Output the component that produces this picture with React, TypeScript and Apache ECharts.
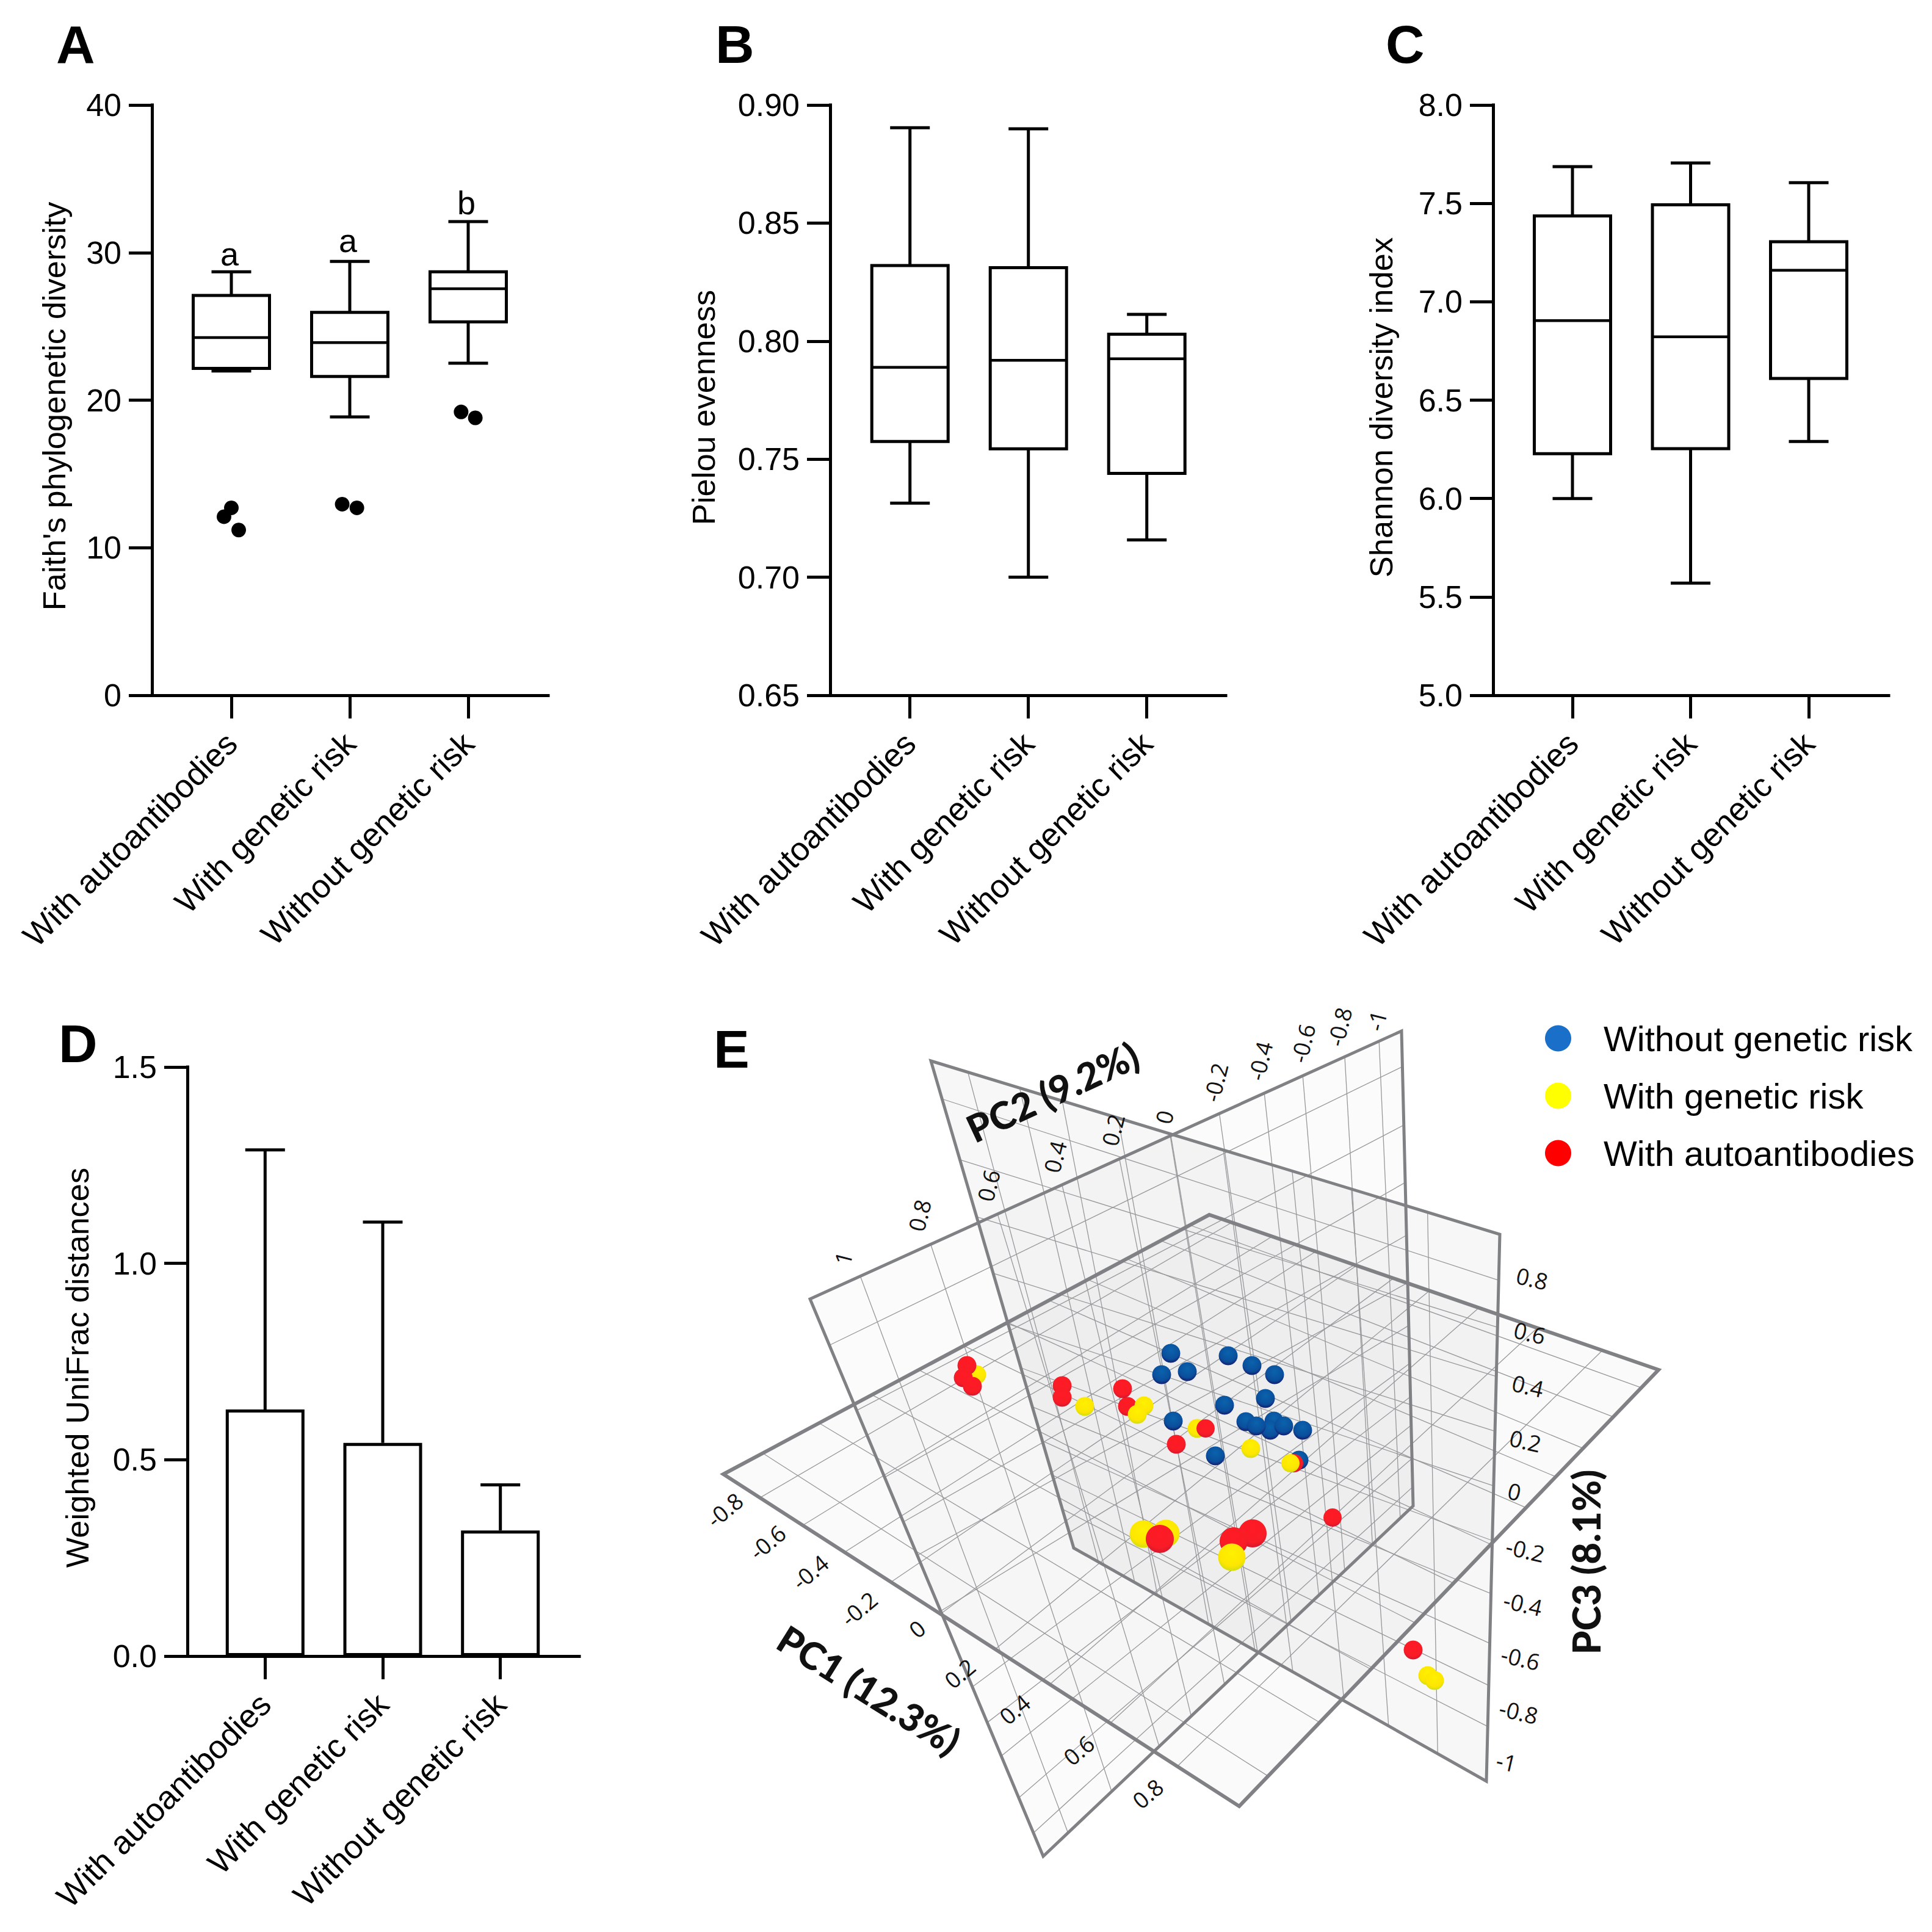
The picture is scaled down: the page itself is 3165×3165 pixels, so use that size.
import React, { useEffect, useRef } from "react";
import * as echarts from "echarts";

const FONT = "Liberation Sans";
const categories = ["With autoantibodies", "With genetic risk", "Without genetic risk"];

// [high, q3, median, q1, low]
const faithBoxes = [
  [28.7, 27.09, 24.24, 22.15, 21.98],
  [29.4, 25.95, 23.9, 21.6, 18.86],
  [32.1, 28.7, 27.55, 25.3, 22.5],
];
const faithOutliers = [
  [0.938, 12.1], [1, 12.7], [1.062, 11.2],
  [1.936, 12.95], [2.06, 12.7],
  [2.94, 19.2], [3.06, 18.8],
];
const faithLetters = ["a", "a", "b"];
const faithLetterPlaces = [[0.985, 29.9], [1.985, 30.8], [2.985, 33.4]];
const pielouBoxes = [
  [0.8904, 0.832, 0.7889, 0.7575, 0.7314],
  [0.8899, 0.8311, 0.7919, 0.7544, 0.7],
  [0.8113, 0.8029, 0.7925, 0.744, 0.7158],
];
const shannonBoxes = [
  [7.687, 7.436, 6.904, 6.228, 6.0],
  [7.705, 7.493, 6.822, 6.253, 5.57],
  [7.605, 7.305, 7.16, 6.61, 6.29],
];
const unifracMeans = [0.628, 0.543, 0.32];
const unifracUpper = [1.289, 1.105, 0.436];

// Panel E: positions of the samples as projected on the page [x, y, diameter]
const scatterBlue = [
  [1918, 2217, 31], [1903, 2252, 31], [1945, 2247, 31], [2012, 2221, 31], [2051, 2237, 31], [2088, 2252, 31],
  [2073, 2291, 31], [2006, 2302, 31], [1922, 2328, 31], [2041, 2329, 31], [2087, 2328, 31], [2081, 2343, 31],
  [2058, 2336, 31], [2103, 2336, 31], [2134, 2343, 31], [1991, 2385, 31], [2128, 2392, 31],
];
const scatterRedBack = [
  [1847, 2304, 31], [2052, 2512, 46], [2021, 2525, 46], [2120, 2397, 30],
];
const scatterYellow = [
  [1600, 2252, 31], [1777, 2304, 31], [1874, 2303, 31], [1863, 2317, 31], [1961, 2340, 31], [2049, 2373, 31],
  [2114, 2397, 30], [1873, 2513, 45], [1910, 2512, 45], [2018, 2551, 45], [2339, 2745, 31], [2350, 2753, 31],
];
const scatterRedFront = [
  [1584, 2237, 31], [1578, 2257, 31], [1593, 2271, 31], [1740, 2270, 31], [1740, 2289, 31], [1839, 2275, 31],
  [1975, 2340, 30], [1927, 2366, 31], [2183, 2486, 30], [1900, 2521, 46], [2315, 2703, 31],
];

// Panel E: the three planes and where their grid lines meet the edges
const floorCorners = [[1185, 2415], [1981, 1990], [2717, 2244], [2030, 2959]];
const backCorners = [[1525, 1738], [2457, 2022], [2435, 2918], [1759, 2536]];
const sideCorners = [[1327, 2128], [2296, 1689], [2315, 2467], [1709, 3041]];

const floorLinesA = [
  [0.071, 0.05], [0.154, 0.14], [0.235, 0.237], [0.325, 0.328], [0.421, 0.41], [0.527, 0.49], [0.633, 0.6], [0.75, 0.73], [0.88, 0.875],
];
const floorLinesB = [
  [0.081, 0.069], [0.197, 0.192], [0.306, 0.314], [0.402, 0.42], [0.495, 0.511], [0.585, 0.6], [0.67, 0.684], [0.75, 0.755], [0.83, 0.82], [0.9, 0.892], [0.96, 0.959],
];
const backLinesA = [
  [0.065, 0.06], [0.156, 0.148], [0.231, 0.203], [0.329, 0.327], [0.42, 0.439], [0.514, 0.531], [0.635, 0.655], [0.739, 0.763], [0.873, 0.882],
];
const backLinesB = [
  [0.078, 0.084], [0.203, 0.17], [0.32, 0.26], [0.436, 0.36], [0.54, 0.46], [0.63, 0.56], [0.71, 0.657], [0.78, 0.748], [0.85, 0.825], [0.92, 0.9],
];
const sideLinesA = [
  [0.085, 0.067], [0.204, 0.185], [0.317, 0.3135], [0.426, 0.4], [0.523, 0.49], [0.61, 0.58], [0.692, 0.67], [0.768, 0.745], [0.833, 0.815], [0.904, 0.89], [0.962, 0.965],
];
const sideLinesB = [
  [0.083, 0.075], [0.2, 0.198], [0.32, 0.319], [0.4, 0.43], [0.46, 0.53], [0.56, 0.62], [0.696, 0.7], [0.76, 0.77], [0.82, 0.83], [0.895, 0.9], [0.958, 0.96],
];

const pc1Ticks = ["-0.8", "-0.6", "-0.4", "-0.2", "0", "0.2", "0.4", "0.6", "0.8"];
const pc1TickPlaces = [[1187, 2473], [1257, 2526], [1327, 2575], [1407, 2635], [1502, 2668], [1572, 2741], [1662, 2800], [1767, 2867], [1880, 2938]];
const pc2Ticks = ["1", "0.8", "0.6", "0.4", "0.2", "0", "-0.2", "-0.4", "-0.6", "-0.8", "-1"];
const pc2TickPlaces = [[1381, 2061], [1506, 1991], [1619, 1942], [1728, 1895], [1823, 1851], [1907, 1830], [1991, 1773], [2064, 1738], [2134, 1709], [2194, 1682], [2255, 1672]];
const pc3Ticks = ["0.8", "0.6", "0.4", "0.2", "0", "-0.2", "-0.4", "-0.6", "-0.8", "-1"];
const pc3TickPlaces = [[2510, 2094], [2506, 2183], [2503, 2270], [2499, 2360], [2481, 2443], [2499, 2539], [2495, 2627], [2491, 2716], [2488, 2804], [2468, 2886]];

const lerp = (a: number[], b: number[], t: number) => [a[0] + (b[0] - a[0]) * t, a[1] + (b[1] - a[1]) * t];

function segmentsBetween(e1a: number[], e1b: number[], e2a: number[], e2b: number[], pairs: number[][]) {
  return pairs.map(([s, t]) => [...lerp(e1a, e1b, s), ...lerp(e2a, e2b, t)]);
}

const gridSegments = [
  ...segmentsBetween(floorCorners[0], floorCorners[3], floorCorners[1], floorCorners[2], floorLinesA),
  ...segmentsBetween(floorCorners[0], floorCorners[1], floorCorners[3], floorCorners[2], floorLinesB),
  ...segmentsBetween(backCorners[0], backCorners[1], backCorners[3], backCorners[2], backLinesA),
  ...segmentsBetween(backCorners[0], backCorners[3], backCorners[1], backCorners[2], backLinesB),
  ...segmentsBetween(sideCorners[0], sideCorners[1], sideCorners[3], sideCorners[2], sideLinesA),
  ...segmentsBetween(sideCorners[0], sideCorners[3], sideCorners[1], sideCorners[2], sideLinesB),
];

const ball = (c: string, mid: string, edge: string) =>
  new echarts.graphic.RadialGradient(0.5, 0.34, 0.68, [
    { offset: 0, color: c },
    { offset: 0.7, color: mid },
    { offset: 1, color: edge },
  ]);

const panels = [
  { left: 249, right: 898, top: 172, bottom: 1139, first: 379, step: 194, min: 0, max: 40, interval: 10, dec: 0, title: "Faith's phylogenetic diversity", nameGap: 134, shift: 20 },
  { left: 1360, right: 2008, top: 172, bottom: 1139, first: 1490.7, step: 194, min: 0.65, max: 0.9, interval: 0.05, dec: 2, title: "Pielou evenness", nameGap: 181, shift: 24 },
  { left: 2446, right: 3094, top: 172, bottom: 1139, first: 2576, step: 193.5, min: 5, max: 8, interval: 0.5, dec: 1, title: "Shannon diversity index", nameGap: 157, shift: 24 },
  { left: 307, right: 949, top: 1748, bottom: 2713, first: 434.3, step: 192.7, min: 0, max: 1.5, interval: 0.5, dec: 1, title: "Weighted UniFrac distances", nameGap: 154, shift: 20 },
];

function boxSeries(index: number, boxes: number[][], boxPx: number, capPx: number) {
  return {
    type: "custom",
    xAxisIndex: index,
    yAxisIndex: index,
    data: boxes.map((b, i) => [i + 1, ...b]),
    encode: { x: 0, y: [1, 2, 3, 4, 5] },
    z: 3,
    renderItem: (_: any, api: any) => {
      const x = api.value(0);
      const [cx, yHigh] = api.coord([x, api.value(1)]);
      const yQ3 = api.coord([x, api.value(2)])[1];
      const yMed = api.coord([x, api.value(3)])[1];
      const yQ1 = api.coord([x, api.value(4)])[1];
      const yLow = api.coord([x, api.value(5)])[1];
      const line = (x1: number, y1: number, x2: number, y2: number, w = 5) => ({
        type: "line",
        shape: { x1, y1, x2, y2 },
        style: { stroke: "#000", lineWidth: w, fill: "none" },
      });
      return {
        type: "group",
        children: [
          line(cx, yHigh, cx, yQ3),
          line(cx, yQ1, cx, yLow),
          line(cx - capPx / 2, yHigh, cx + capPx / 2, yHigh),
          line(cx - capPx / 2, yLow, cx + capPx / 2, yLow),
          {
            type: "rect",
            shape: { x: cx - boxPx / 2, y: yQ3, width: boxPx, height: yQ1 - yQ3 },
            style: { stroke: "#000", lineWidth: 5, fill: "none" },
          },
          line(cx - boxPx / 2, yMed, cx + boxPx / 2, yMed, 4.5),
        ],
      };
    },
  };
}

function buildOption() {
  const grids: any[] = [];
  const xAxes: any[] = [];
  const yAxes: any[] = [];
  panels.forEach((p, i) => {
    grids.push({ left: p.left, top: p.top, width: p.right - p.left, height: p.bottom - p.top, containLabel: false });
    xAxes.push({
      type: "value",
      gridIndex: i,
      min: 1 - (p.first - p.left) / p.step,
      max: 1 + (p.right - p.first) / p.step,
      splitLine: { show: false },
      axisLine: { show: true, onZero: false, lineStyle: { color: "#000", width: 5, cap: "square" } },
      axisTick: { show: true, customValues: [1, 2, 3], length: 38, lineStyle: { color: "#000", width: 5 } },
      axisLabel: {
        customValues: [1, 2, 3],
        formatter: (v: number) => categories[Math.round(v) - 1],
        rotate: 45,
        margin: 70,
        fontFamily: FONT,
        fontSize: 53.5,
        color: "#000",
      },
    });
    yAxes.push({
      type: "value",
      gridIndex: i,
      min: p.min,
      max: p.max,
      interval: p.interval,
      name: p.title,
      nameLocation: "middle",
      nameGap: p.nameGap,
      nameTextStyle: { fontFamily: FONT, fontSize: 52.5, color: "#000", padding: [0, p.shift, 0, 0] },
      splitLine: { show: false },
      axisLine: { show: true, onZero: false, lineStyle: { color: "#000", width: 5, cap: "square" } },
      axisTick: { show: true, length: 38, lineStyle: { color: "#000", width: 5 } },
      axisLabel: {
        margin: 50,
        fontFamily: FONT,
        fontSize: 52,
        color: "#000",
        formatter: (v: number) => v.toFixed(p.dec),
      },
    });
  });

  // hidden page-wide frame for the projected 3D panel
  grids.push({ left: 0, top: 0, width: 3165, height: 3165 });
  xAxes.push({ type: "value", gridIndex: 4, min: 0, max: 3165, show: false });
  yAxes.push({ type: "value", gridIndex: 4, min: 0, max: 3165, inverse: true, show: false });

  const planeSeries = (corners: number[][], alpha: number) => ({
    type: "custom",
    xAxisIndex: 4,
    yAxisIndex: 4,
    silent: true,
    z: 1,
    data: [[corners[0][0], corners[0][1]]],
    renderItem: (_: any, api: any) => ({
      type: "polygon",
      shape: { points: corners.map((c) => api.coord(c)) },
      style: { fill: `rgba(70,70,85,${alpha})`, stroke: "none" },
    }),
  });
  const edgeSeries = (corners: number[][], width: number) => ({
    type: "custom",
    xAxisIndex: 4,
    yAxisIndex: 4,
    silent: true,
    z: 4,
    data: [[corners[0][0], corners[0][1]]],
    renderItem: (_: any, api: any) => ({
      type: "polygon",
      shape: { points: corners.map((c) => api.coord(c)) },
      style: { fill: "none", stroke: "#808184", lineWidth: width, lineJoin: "miter" },
    }),
  });
  const labelSeries = (
    texts: string[],
    places: number[][],
    rotate: number,
    fontSize: number,
    family: string,
    weight: string = "normal",
    color: string = "#111",
    gridIdx: number = 4
  ) => ({
    type: "custom",
    xAxisIndex: gridIdx,
    yAxisIndex: gridIdx,
    silent: true,
    z: 6,
    data: places.map((p) => [p[0], p[1]]),
    renderItem: (params: any, api: any) => {
      const [x, y] = api.coord([api.value(0), api.value(1)]);
      return {
        type: "text",
        x,
        y,
        rotation: (rotate * Math.PI) / 180,
        style: {
          text: texts[params.dataIndex],
          align: "center",
          verticalAlign: "middle",
          fontSize,
          fontFamily: family,
          fontWeight: weight,
          fill: color,
        },
      };
    },
  });
  const points = (name: string, data: number[][], color: any, z: number) => ({
    type: "scatter",
    name,
    xAxisIndex: 4,
    yAxisIndex: 4,
    data,
    z,
    symbol: "circle",
    symbolSize: (v: number[]) => v[2],
    itemStyle: { color, opacity: 1 },
    silent: true,
  });

  const blue = ball("#0a63ad", "#0a4e9b", "#14186a");
  const yellow = ball("#fff000", "#fde600", "#cfdc14");
  const red = ball("#ff1a24", "#f81c26", "#d4162e");

  const series: any[] = [
    boxSeries(0, faithBoxes, 125, 65),
    boxSeries(1, pielouBoxes, 125, 65),
    boxSeries(2, shannonBoxes, 125, 65),
    {
      type: "scatter",
      xAxisIndex: 0,
      yAxisIndex: 0,
      data: faithOutliers,
      symbol: "circle",
      symbolSize: 24,
      itemStyle: { color: "#000", opacity: 1 },
      z: 3,
    },
    labelSeries(faithLetters, faithLetterPlaces, 0, 54, FONT, "normal", "#000", 0),
    {
      type: "bar",
      xAxisIndex: 3,
      yAxisIndex: 3,
      data: unifracMeans.map((v, i) => [i + 1, v]),
      barWidth: 129,
      clip: false,
      itemStyle: { color: "#fff", borderColor: "#000", borderWidth: 5 },
      z: 3,
    },
    {
      type: "custom",
      xAxisIndex: 3,
      yAxisIndex: 3,
      z: 2,
      data: unifracMeans.map((v, i) => [i + 1, v, unifracUpper[i]]),
      encode: { x: 0, y: [1, 2] },
      renderItem: (_: any, api: any) => {
        const [cx, y1] = api.coord([api.value(0), api.value(1)]);
        const y2 = api.coord([api.value(0), api.value(2)])[1];
        const s = { stroke: "#000", lineWidth: 5 };
        return {
          type: "group",
          children: [
            { type: "line", shape: { x1: cx, y1, x2: cx, y2 }, style: s },
            { type: "line", shape: { x1: cx - 32.5, y1: y2, x2: cx + 32.5, y2 }, style: s },
          ],
        };
      },
    },
    planeSeries(floorCorners, 0.028),
    planeSeries(sideCorners, 0.022),
    planeSeries(backCorners, 0.045),
    {
      type: "custom",
      xAxisIndex: 4,
      yAxisIndex: 4,
      silent: true,
      z: 2,
      data: gridSegments,
      renderItem: (_: any, api: any) => {
        const a = api.coord([api.value(0), api.value(1)]);
        const b = api.coord([api.value(2), api.value(3)]);
        return {
          type: "line",
          shape: { x1: a[0], y1: a[1], x2: b[0], y2: b[1] },
          style: { stroke: "#97989a", lineWidth: 1.3 },
        };
      },
    },
    edgeSeries(sideCorners, 5),
    edgeSeries(backCorners, 5),
    edgeSeries(floorCorners, 6),
    points("Without genetic risk", scatterBlue, blue, 8),
    points("With autoantibodies", scatterRedBack, red, 9),
    points("With genetic risk", scatterYellow, yellow, 10),
    points("With autoantibodies", scatterRedFront, red, 11),
    labelSeries(pc1Ticks, pc1TickPlaces, 40, 37, "Open Sans"),
    labelSeries(pc2Ticks, pc2TickPlaces, 76, 37, "Open Sans"),
    labelSeries(pc3Ticks, pc3TickPlaces, -13, 37, "Open Sans"),
    labelSeries(["PC1 (12.3%)"], [[1424, 2768]], -32, 62, "Lato", "900"),
    labelSeries(["PC2 (9.2%)"], [[1724, 1788]], 25, 62, "Lato", "900"),
    labelSeries(["PC3 (8.1%)"], [[2598, 2559]], 90, 62, "Lato", "900"),
  ];

  const letter = (text: string, x: number, y: number) => ({
    type: "text",
    x,
    y,
    style: { text, fontFamily: FONT, fontWeight: "bold", fontSize: 88, fill: "#000", align: "left", verticalAlign: "top" },
  });

  return {
    animation: false,
    backgroundColor: "#fff",
    grid: grids,
    xAxis: xAxes,
    yAxis: yAxes,
    series,
    legend: {
      show: true,
      orient: "vertical",
      left: 2526,
      top: 1667,
      itemWidth: 43,
      itemHeight: 43,
      itemGap: 36,
      selectedMode: false,
      textStyle: { fontFamily: FONT, fontSize: 58, color: "#000", padding: [0, 0, 0, 48] },
      data: [
        { name: "Without genetic risk", icon: "circle", itemStyle: { color: "#1a6fc9" } },
        { name: "With genetic risk", icon: "circle", itemStyle: { color: "#ffff00" } },
        { name: "With autoantibodies", icon: "circle", itemStyle: { color: "#ff0000" } },
      ],
    },
    graphic: [letter("A", 92, 28), letter("B", 1172, 28), letter("C", 2270, 28), letter("D", 96, 1665), letter("E", 1169, 1674)],
  };
}

export default function App() {
  const ref = useRef<HTMLDivElement>(null);
  useEffect(() => {
    document.body.style.margin = "0";
    const chart = echarts.init(ref.current!, undefined, { renderer: "svg" });
    chart.setOption(buildOption() as any);
    return () => chart.dispose();
  }, []);
  return <div ref={ref} style={{ width: 3165, height: 3165 }} />;
}
